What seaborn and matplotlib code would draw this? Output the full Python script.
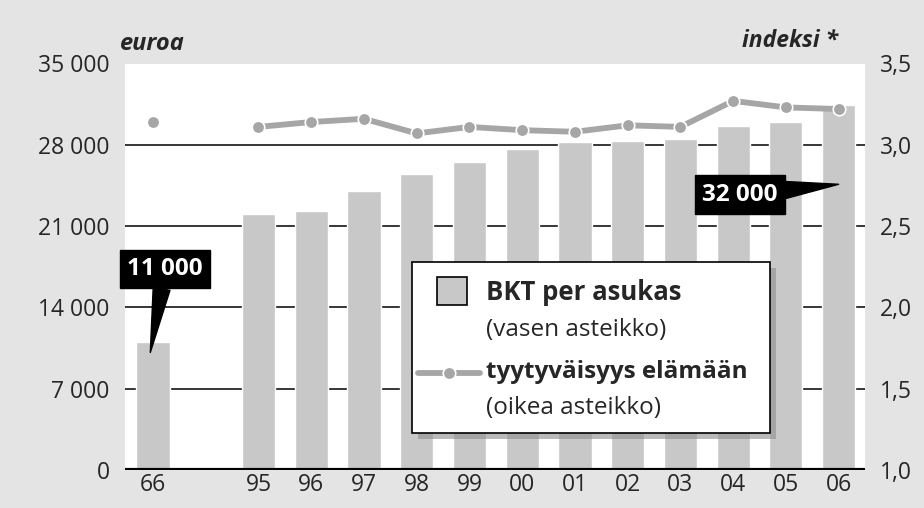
import matplotlib
matplotlib.use("Agg")
import matplotlib.pyplot as plt
from matplotlib.patches import Rectangle
from matplotlib.lines import Line2D
import pandas as pd
import seaborn as sns

# data
vuodet = ["66", "95", "96", "97", "98", "99", "00", "01", "02", "03", "04", "05", "06"]
bkt = [11000, 22000, 22300, 24000, 25500, 26500, 27600, 28200, 28300, 28500, 29600, 30000, 31400]
tyytyvaisyys = [3.14, 3.11, 3.14, 3.16, 3.07, 3.11, 3.09, 3.08, 3.12, 3.11, 3.27, 3.23, 3.22]
order = ["66", " "] + vuodet[1:]  # empty slot between 1966 and 1995

left_ticks = [0, 7000, 14000, 21000, 28000, 35000]
left_labels = ["0", "7 000", "14 000", "21 000", "28 000", "35 000"]
right_ticks = [1.0, 1.5, 2.0, 2.5, 3.0, 3.5]
right_labels = ["1,0", "1,5", "2,0", "2,5", "3,0", "3,5"]

df = pd.DataFrame({"vuosi": vuodet, "bkt": bkt, "tyyt": tyytyvaisyys})

sns.set_style("white")
plt.rcParams["font.family"] = ["Open Sans", "DejaVu Sans"]

bg = "#e4e4e4"
bar_col = "#c8c8c8"
line_col = "#a6a6a6"
fs = 16.5

fig = plt.figure(figsize=(9.24, 5.08), dpi=100, facecolor=bg)
ax = fig.add_axes([125 / 924, 38 / 508, 740 / 924, 406.5 / 508])
ax.set_facecolor("white")

sns.barplot(data=df, x="vuosi", y="bkt", order=order, color=bar_col,
            width=0.63, saturation=1, ax=ax, zorder=2)
ax.set_ylim(0, 35000)
ax.set_xlim(-0.53, 13.5)
ax.set_yticks(left_ticks)
ax.set_yticklabels(left_labels, fontsize=fs)
ax.tick_params(axis="y", length=0, pad=11)
ax.tick_params(axis="x", length=0, pad=2, labelsize=fs)
ax.set_xlabel("")
ax.set_ylabel("")
for v in left_ticks[1:-1]:
    ax.axhline(v, color="black", lw=1.1, zorder=1)
ax.axhline(0, color="black", lw=3, zorder=4)
for s in ax.spines.values():
    s.set_visible(False)

ax2 = ax.twinx()
sns.pointplot(data=df.iloc[:1], x="vuosi", y="tyyt", order=order, ax=ax2,
              color=line_col, markers="o", linestyles="none",
              markersize=9, markeredgecolor="white", markeredgewidth=1.2)
sns.pointplot(data=df.iloc[1:], x="vuosi", y="tyyt", order=order, ax=ax2,
              color=line_col, markers="o", linewidth=4.2,
              markersize=9, markeredgecolor="white", markeredgewidth=1.2)
ax2.set_ylim(1.0, 3.5)
ax2.set_xlim(-0.53, 13.5)
ax2.set_yticks(right_ticks)
ax2.set_yticklabels(right_labels, fontsize=fs)
ax2.tick_params(axis="y", length=0, pad=11)
ax2.set_ylabel("")
ax2.set_xlabel("")
for s in ax2.spines.values():
    s.set_visible(False)

# axis titles
fig.text(120 / 924, 1 - 44 / 508, "euroa", fontsize=17, fontweight="bold",
         style="italic", va="center", ha="left")
fig.text(838 / 924, 1 - 41 / 508, "indeksi *", fontsize=16.5, fontweight="bold",
         style="italic", va="center", ha="right")

# callouts
box = dict(boxstyle="square,pad=0.3", fc="black", ec="black")
ax.annotate("11 000", xy=(-0.05, bkt[0] * 0.92), xytext=(0.23, 17300),
            color="white", fontsize=17.5, fontweight="bold", ha="center", va="center",
            bbox=box, zorder=6,
            arrowprops=dict(arrowstyle="wedge,tail_width=0.7,shrink_factor=0.5",
                            fc="black", ec="black", shrinkA=0, shrinkB=0))
ax.annotate("32 000", xy=(13.0, 24600), xytext=(11.13, 23700),
            color="white", fontsize=17.5, fontweight="bold", ha="center", va="center",
            bbox=box, zorder=6,
            arrowprops=dict(arrowstyle="wedge,tail_width=0.7,shrink_factor=0.5",
                            fc="black", ec="black", shrinkA=0, shrinkB=0))

# legend box drawn by hand
lx, ly, lw_, lh = 412 / 924, 75 / 508, 358 / 924, 171 / 508
fig.patches.append(Rectangle((lx + 6 / 924, ly - 6 / 508), lw_, lh,
                             transform=fig.transFigure, fc="#8c8c8c", ec="none",
                             zorder=5, alpha=0.6))
fig.patches.append(Rectangle((lx, ly), lw_, lh, transform=fig.transFigure,
                             fc="white", ec="black", lw=1.2, zorder=6))
fig.patches.append(Rectangle((437 / 924, 1 - 305 / 508), 30 / 924, 28 / 508,
                             transform=fig.transFigure, fc=bar_col, ec="black",
                             lw=1.2, zorder=7))
fig.lines.append(Line2D([418 / 924, 480 / 924], [1 - 373 / 508] * 2,
                        transform=fig.transFigure, color=line_col, lw=4.2,
                        zorder=7))
fig.lines.append(Line2D([449 / 924], [1 - 373 / 508], transform=fig.transFigure,
                        color=line_col, marker="o", markersize=9,
                        markeredgecolor="white", markeredgewidth=1.2, zorder=8))
fig.text(486 / 924, 1 - 292 / 508, "BKT per asukas", fontsize=18.5,
         fontweight="bold", va="center", zorder=9)
fig.text(486 / 924, 1 - 330 / 508, "(vasen asteikko)", fontsize=17.5,
         va="center", zorder=9)
fig.text(486 / 924, 1 - 372 / 508, "tyytyväisyys elämään", fontsize=17.5,
         fontweight="bold", va="center", zorder=9)
fig.text(486 / 924, 1 - 408 / 508, "(oikea asteikko)", fontsize=17.5,
         va="center", zorder=9)

fig.savefig("out.png", dpi=100, facecolor=bg)
